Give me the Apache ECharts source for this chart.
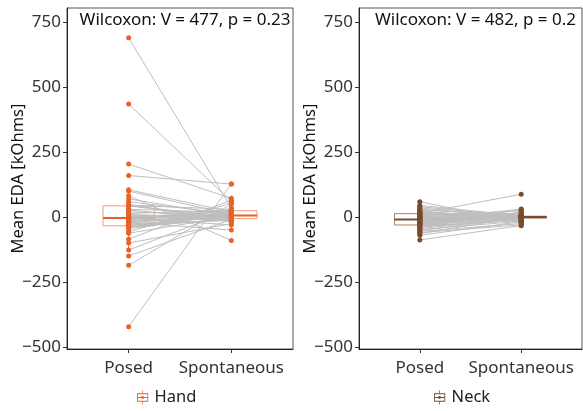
<!DOCTYPE html>
<html style="height: 100%">
<head>
    <meta charset="utf-8">
</head>
<body style="height: 100%; margin: 0">
<div id="container" style="width: 583px; height: 411px"></div>
<script type="text/javascript" src="https://cdn.jsdelivr.net/npm/echarts@6/dist/echarts.min.js"></script>
<script type="text/javascript">
var dom = document.getElementById("container");
var myChart = echarts.init(dom);

// x positions 1 = Posed, 2 = Spontaneous
var conditions = ['Posed', 'Spontaneous'];
var yTicks = [-500, -250, 0, 250, 500, 750];

// one entry per subject, paired by index
var handPosed = [690, 435, 204, 160, 105, 100, 82, 70, 59, 50, 45, 44, 43, 30, 27, 20, 14, 10, 8, 5, 2, 0,
    -2, -3, -4, -5, -8, -10, -13, -15, -18, -20, -24, -27, -30, -33, -36, -38, -40, -45, -56, -62, -85,
    -100, -127, -150, -186, -422];
var handSpont = [35, 60, 72, 127, 20, 10, -90, 5, 12, -20, 30, 0, -5, 18, -10, 8, 26, -3, -4, -15, 6, 22,
    -8, 3, 15, -30, 9, 28, -2, -7, 4, -50, 16, 1, -11, -12, 7, 24, -6, 11, 53, 2, 65,
    -25, 26, -9, 50, 127];

var neckPosed = [59, 45, 40, 35, 30, 26, 22, 20, 18, 16, 15, 14, 13, 10, 8, 5, 3, 1, 0, -2, -4, -6, -8, -9,
    -10, -12, -14, -16, -18, -20, -22, -24, -26, -27, -28, -30, -32, -35, -38, -40, -44, -48, -52, -55,
    -60, -63, -70, -88];
var neckSpont = [-20, 5, 2, -2, 1, 12, -5, 0, 3, -1, 9, 88, -3, 0, 2, 24, -8, 1, 4, -1, 7, 0, -12, 2,
    1, 31, -2, 3, -4, 6, -1, 0, 16, -10, 1, 28, -3, -14, 20, -1, -6, -16, -2, -25,
    -30, 0, -18, -33];

var handColor = '#E8622A';
var handLight = '#EE9A74';
var neckColor = '#7A4A2C';
var neckLight = '#A98369';
var pairColor = '#BEBEBE';

function quantile(sorted, p) {
    var h = (sorted.length - 1) * p;
    var lo = Math.floor(h);
    var hi = Math.min(lo + 1, sorted.length - 1);
    return sorted[lo] + (h - lo) * (sorted[hi] - sorted[lo]);
}

function boxStats(x, vals) {
    var s = vals.slice().sort(function (a, b) { return a - b; });
    var q1 = quantile(s, 0.25), med = quantile(s, 0.5), q3 = quantile(s, 0.75);
    var iqr = q3 - q1;
    var inside = s.filter(function (v) { return v >= q1 - 1.5 * iqr && v <= q3 + 1.5 * iqr; });
    return [x, inside[0], q1, med, q3, inside[inside.length - 1]];
}

function renderBox(color, light) {
    return function (params, api) {
        var x = api.value(0);
        var half = api.size([0.5, 0])[0] / 2;
        var lo = api.coord([x, api.value(1)]);
        var q1 = api.coord([x, api.value(2)]);
        var med = api.coord([x, api.value(3)]);
        var q3 = api.coord([x, api.value(4)]);
        var hi = api.coord([x, api.value(5)]);
        var cx = med[0];
        return {
            type: 'group',
            children: [
                { type: 'line', shape: { x1: cx, y1: hi[1], x2: cx, y2: q3[1] }, style: { stroke: color, lineWidth: 1 } },
                { type: 'line', shape: { x1: cx, y1: q1[1], x2: cx, y2: lo[1] }, style: { stroke: color, lineWidth: 1 } },
                { type: 'rect', shape: { x: cx - half, y: q3[1], width: 2 * half, height: q1[1] - q3[1] },
                  style: { fill: '#fff', stroke: light, lineWidth: 1 } },
                { type: 'line', shape: { x1: cx - half, y1: med[1], x2: cx + half, y2: med[1] }, style: { stroke: color, lineWidth: 2 } }
            ]
        };
    };
}

var boxIcon = 'path://M9.5 0h1v4h-1z M2 4h16v12h-16z M3.2 5.2v9.6h13.6v-9.6z M2 9.4h16v1.2h-16z M9.5 16h1v4h-1z M12 10A2 2 0 1 1 8 10A2 2 0 1 1 12 10z';

var panels = [
    { name: 'Hand', posed: handPosed, spont: handSpont, color: handColor, light: handLight,
      title: 'Wilcoxon: V = 477, p = 0.23', left: 67, width: 226, legendLeft: 137 },
    { name: 'Neck', posed: neckPosed, spont: neckSpont, color: neckColor, light: neckLight,
      title: 'Wilcoxon: V = 482, p = 0.2', left: 359, width: 223, legendLeft: 434 }
];

var fontFamily = 'Noto Sans';
var grids = [], xAxes = [], yAxes = [], titles = [], legends = [], series = [];

panels.forEach(function (p, k) {
    grids.push({ left: p.left, top: 8, width: p.width, bottom: 62, show: true, borderColor: '#555', borderWidth: 1 });
    xAxes.push({
        type: 'value', gridIndex: k, min: 0.4, max: 2.6,
        axisLine: { onZero: false, lineStyle: { color: '#222', width: 1 } },
        axisTick: { length: 4, customValues: [1, 2], lineStyle: { color: '#333' } },
        axisLabel: {
            customValues: [1, 2], margin: 11, fontSize: 17, color: '#333', fontFamily: fontFamily,
            formatter: function (v) { return conditions[Math.round(v) - 1]; }
        },
        splitLine: { show: false }
    });
    yAxes.push({
        type: 'value', gridIndex: k, min: -508, max: 805,
        name: 'Mean EDA [kOhms]', nameLocation: 'middle', nameGap: 40, nameMoveOverlap: false,
        nameTextStyle: { fontSize: 16.5, color: '#111', fontFamily: fontFamily },
        axisLine: { show: true, onZero: false, lineStyle: { color: '#222', width: 1 } },
        axisTick: { show: true, length: 4, customValues: yTicks, lineStyle: { color: '#333' } },
        axisLabel: {
            customValues: yTicks, margin: 6, fontSize: 17, color: '#333', fontFamily: fontFamily,
            formatter: function (v) { return String(v).replace('-', '\u2212'); }
        },
        splitLine: { show: false }
    });
    titles.push({
        text: p.title, left: p.left + p.width / 2, top: 7, textAlign: 'center',
        textStyle: { fontSize: 17, fontWeight: 'normal', color: '#111', fontFamily: fontFamily }
    });
    legends.push({
        data: [{ name: p.name, icon: boxIcon, itemStyle: { color: p.color } }],
        left: p.legendLeft, top: 389, padding: 0, itemWidth: 14, itemHeight: 14, itemGap: 6,
        textStyle: { fontSize: 16.5, color: '#222', fontFamily: fontFamily }
    });

    series.push({
        type: 'custom', name: p.name, xAxisIndex: k, yAxisIndex: k, z: 1,
        itemStyle: { color: p.color },
        renderItem: renderBox(p.color, p.light),
        encode: { x: 0, y: [1, 2, 3, 4, 5] },
        data: [boxStats(1, p.posed), boxStats(2, p.spont)]
    });
    series.push({
        type: 'lines', coordinateSystem: 'cartesian2d', xAxisIndex: k, yAxisIndex: k, z: 2,
        silent: true, symbol: 'none',
        lineStyle: { color: pairColor, width: 1, opacity: 1 },
        data: p.posed.map(function (v, i) { return { coords: [[1, v], [2, p.spont[i]]] }; })
    });
    series.push({
        type: 'scatter', name: p.name, xAxisIndex: k, yAxisIndex: k, z: 3,
        symbolSize: 5, itemStyle: { color: p.color, opacity: 1 },
        data: p.posed.map(function (v) { return [1, v]; })
            .concat(p.spont.map(function (v) { return [2, v]; }))
    });
});

var option = {
    animation: false,
    textStyle: { fontFamily: fontFamily },
    title: titles,
    legend: legends,
    grid: grids,
    xAxis: xAxes,
    yAxis: yAxes,
    series: series
};

if (option && typeof option === 'object') {
    myChart.setOption(option);
}
</script>
</body>
</html>
